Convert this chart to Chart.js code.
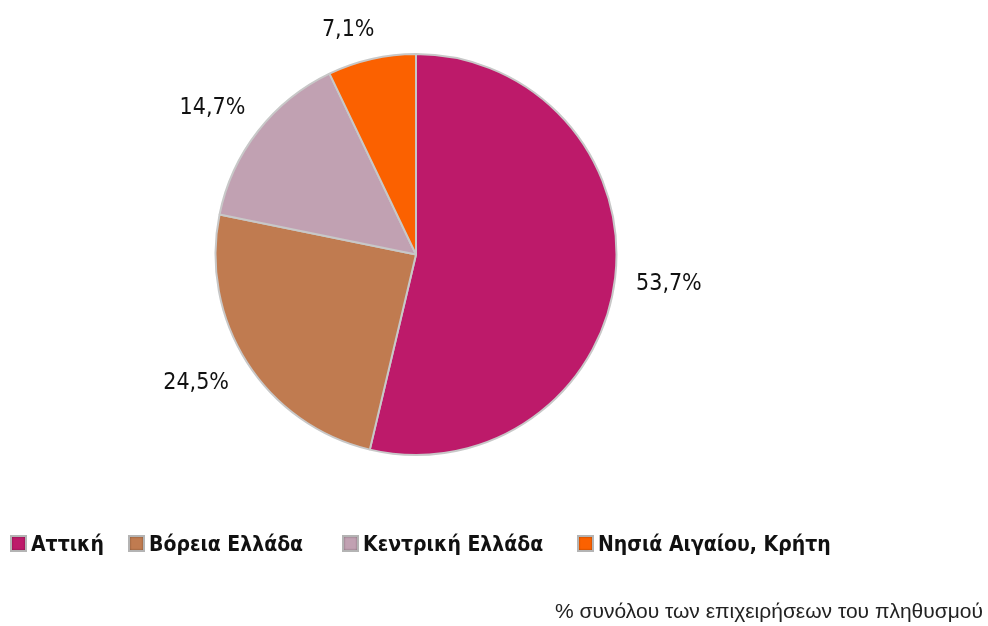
<!DOCTYPE html>
<html>
<head>
<meta charset="utf-8">
<script src="https://cdn.jsdelivr.net/npm/chart.js@4.4.1/dist/chart.umd.min.js"></script>
<style>
  html, body { margin: 0; padding: 0; background: #fff; }
  #wrap { position: relative; width: 988px; height: 626px; }
  #legend { position: absolute; left: 0; top: 532px; width: 988px; height: 30px; font-family: "DejaVu Sans Condensed", "Liberation Sans Narrow", sans-serif; font-weight: bold; font-size: 21px; color: #111; white-space: nowrap; }
  #legend span.item { position: absolute; top: 0; }
  #legend span.box { display: inline-block; width: 13px; height: 13px; margin-right: 4px; vertical-align: -1px; border: 2px solid #b4b4b4; box-shadow: inset 0 0 2px rgba(0,0,0,0.4); }
  #note { position: absolute; right: 5px; top: 599px; font-family: "Liberation Sans", Arial, sans-serif; font-size: 21px; color: #222; }
</style>
</head>
<body>
<div id="wrap">
  <canvas id="mycanvas" width="988" height="626"></canvas>
  <div id="legend"></div>
  <div id="note">% συνόλου των επιχειρήσεων του πληθυσμού</div>
</div>
<script>
var regions = ["Αττική", "Βόρεια Ελλάδα", "Κεντρική Ελλάδα", "Νησιά Αιγαίου, Κρήτη"];
var shares = [53.7, 24.5, 14.7, 7.1];
var shareLabels = ["53,7%", "24,5%", "14,7%", "7,1%"];
var colors = ["#bd1a6a", "#c07b50", "#c1a1b2", "#fb6100"];

// where each label sits, as a multiple of the radius, and a small angle shift
var labelDist = [1.27, 1.27, 1.25, 1.17];
var labelShift = [0, 0.04, -0.04, -0.07];
var legendX = [10, 128, 342, 577];

var outLabels = {
  id: "outLabels",
  afterDatasetsDraw: function(chart) {
    var ctx = chart.ctx;
    var meta = chart.getDatasetMeta(0);
    ctx.save();
    ctx.font = "23px 'DejaVu Sans Condensed', 'Liberation Sans Narrow', sans-serif";
    ctx.fillStyle = "#111";
    ctx.textAlign = "center";
    ctx.textBaseline = "middle";
    meta.data.forEach(function(arc, i) {
      var mid = (arc.startAngle + arc.endAngle) / 2 + labelShift[i];
      var d = arc.outerRadius * labelDist[i];
      ctx.fillText(shareLabels[i], arc.x + Math.cos(mid) * d, arc.y + Math.sin(mid) * d);
    });
    ctx.restore();
  }
};

var ctx = document.getElementById("mycanvas");
var pie = new Chart(ctx, {
  type: "pie",
  data: {
    labels: regions,
    datasets: [{
      data: shares,
      backgroundColor: colors,
      borderColor: "#c8c8c8",
      borderWidth: 2
    }]
  },
  options: {
    responsive: false,
    animation: false,
    layout: { padding: { left: 214, right: 988 - 618, top: 53, bottom: 626 - 456 } },
    plugins: {
      legend: { display: false },
      tooltip: { enabled: false }
    }
  },
  plugins: [outLabels]
});

var legend = document.getElementById("legend");
regions.forEach(function(r, i) {
  var item = document.createElement("span");
  item.className = "item";
  item.style.left = legendX[i] + "px";
  item.innerHTML = '<span class="box" style="background:' + colors[i] + '"></span>' + r;
  legend.appendChild(item);
});
</script>
</body>
</html>
